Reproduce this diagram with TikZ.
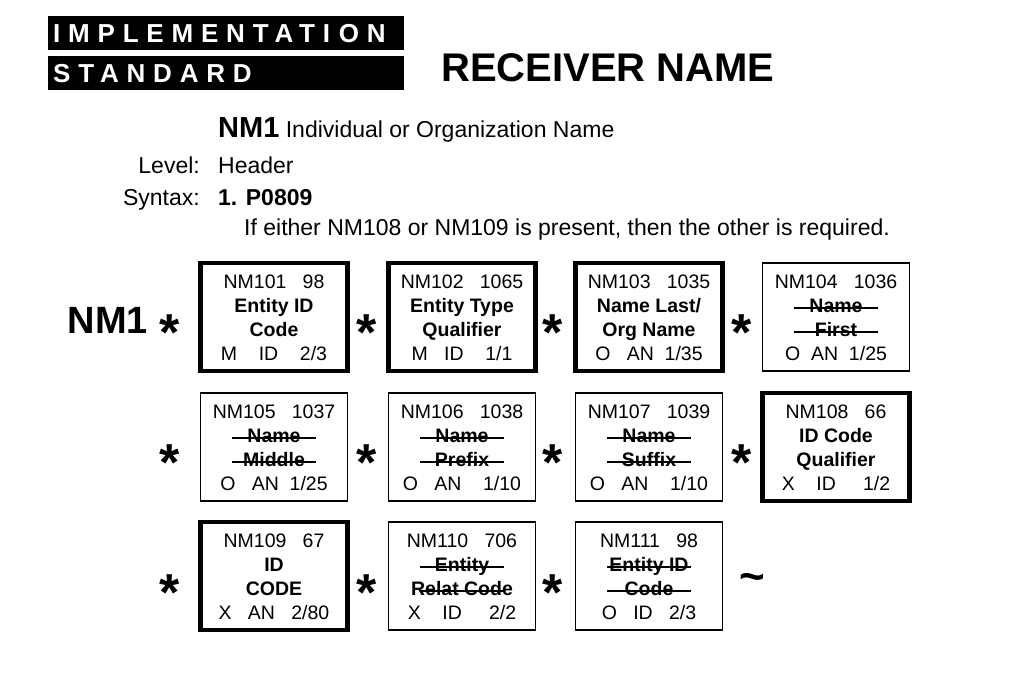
\documentclass[tikz,border=0pt]{standalone}
\usepackage{fontspec}
\setmainfont{Liberation Sans}
\begin{document}
\begin{tikzpicture}[x=1pt,y=-1pt,
  bx/.style={draw,line width=1.6pt,minimum width=147pt,minimum height=108pt,inner sep=0pt},
  thk/.style={line width=4.5pt},
  t/.style={font=\fontsize{19.5}{19.5}\selectfont,inner sep=0pt,text height=14pt,text depth=4pt},
  tb/.style={font=\fontsize{19.5}{19.5}\selectfont\bfseries,inner sep=0pt,text height=14pt,text depth=4pt},
  star/.style={font=\fontsize{52}{52}\selectfont\bfseries,inner sep=0pt},
  lt/.style={font=\fontsize{23}{23}\selectfont,inner sep=0pt,text height=17pt,text depth=5pt},
  hd/.style={fill=black,text=white,minimum width=356pt,minimum height=34pt,inner sep=0pt,font=\fontsize{26}{26}\selectfont\bfseries}]
\useasboundingbox (0,0) rectangle (1024,683);
\node[hd,anchor=north west,text width=346pt,align=left] (h1) at (48,16) {\addfontfeature{LetterSpace=30}IMPLEMENTATI\,\,ON};
\node[hd,anchor=north west,text width=346pt,align=left] (h2) at (48,56) {\addfontfeature{LetterSpace=30}STANDARD};
\node[font=\fontsize{40}{40}\selectfont\bfseries,inner sep=0pt] (title) at (608,68) {RECEIVER NAME};
\node[anchor=west,lt] (seg) at (218,131) {\textbf{\fontsize{29}{29}\selectfont NM1} Individual or Organization Name};
\node[anchor=east,lt] (lv) at (200,167) {Level:};
\node[anchor=west,lt] (lvv) at (218,167) {Header};
\node[anchor=east,lt] (sy) at (200,199) {Syntax:};
\node[anchor=west,lt,font=\fontsize{23}{23}\selectfont\bfseries] (syv) at (218,199) {1. P0809};
\node[anchor=west,lt] (syn) at (244,229) {If either NM108 or NM109 is present, then the other is required.};
\node[font=\fontsize{38}{38}\selectfont\bfseries,inner sep=0pt] (nm1) at (108,320) {NM1};
\newcommand\segbox[9]{%
  \node[bx,#4] (#1) at (#2,#3+54) {};
  \node[t] (#1a) at (#2,#3+20) {#5};
  \node[tb] (#1b) at (#2,#3+44) {#6};
  \node[tb] (#1c) at (#2,#3+68) {#7};
  \node[t] (#1d) at (#2,#3+92) {#8};
}
\segbox{b1}{274}{263}{thk}{NM101\ \ \ 98}{Entity ID}{Code}{M\ \ \ \ ID\ \ \ \ 2/3}{}
\segbox{b2}{462}{263}{thk}{NM102\ \ \ 1065}{Entity Type}{Qualifier}{M\ \ \ ID\ \ \ \ 1/1}{}
\segbox{b3}{649}{263}{thk}{NM103\ \ \ 1035}{Name Last/}{Org Name}{O\ \ \ AN\ \ 1/35}{}
\segbox{b4}{836}{263}{}{NM104\ \ \ 1036}{Name}{First}{O\ \ AN\ \ 1/25}{}
\segbox{b5}{274}{393}{}{NM105\ \ \ 1037}{Name}{Middle}{O\ \ \ AN\ \ 1/25}{}
\segbox{b6}{462}{393}{}{NM106\ \ \ 1038}{Name}{Prefix}{O\ \ \ AN\ \ \ \ 1/10}{}
\segbox{b7}{649}{393}{}{NM107\ \ \ 1039}{Name}{Suffix}{O\ \ \ AN\ \ \ \ 1/10}{}
\segbox{b8}{836}{393}{thk}{NM108\ \ \ 66}{ID Code}{Qualifier}{X\ \ \ \ ID\ \ \ \ \ 1/2}{}
\segbox{b9}{274}{522}{thk}{NM109\ \ \ 67}{ID}{CODE}{X\ \ \ AN\ \ \ 2/80}{}
\segbox{b10}{462}{522}{}{NM110\ \ \ 706}{Entity}{Relat Code}{X\ \ \ \ ID\ \ \ \ \ 2/2}{}
\segbox{b11}{649}{522}{}{NM111\ \ \ 98}{Entity ID}{Code}{O\ \ \ ID\ \ \ 2/3}{}
\foreach \n in {b4,b5,b6,b7,b10,b11}{
  \draw[line width=2pt] ([xshift=-42pt,yshift=-1pt]\n|-\n b) -- ([xshift=42pt,yshift=-1pt]\n|-\n b);
  \draw[line width=2pt] ([xshift=-42pt,yshift=-1pt]\n|-\n c) -- ([xshift=42pt,yshift=-1pt]\n|-\n c);
}
\foreach \x/\y/\nm in {170/333/s1,367/333/s2,553/333/s3,742/333/s4,170/463/s5,367/463/s6,553/463/s7,742/463/s8,170/593/s9,367/593/s10,553/593/s11}
  \node[star] (\nm) at (\x,\y) {*};
\node[star,font=\fontsize{44}{44}\selectfont\bfseries] (tl) at (752,582) {\textasciitilde};
\end{tikzpicture}
\end{document}
